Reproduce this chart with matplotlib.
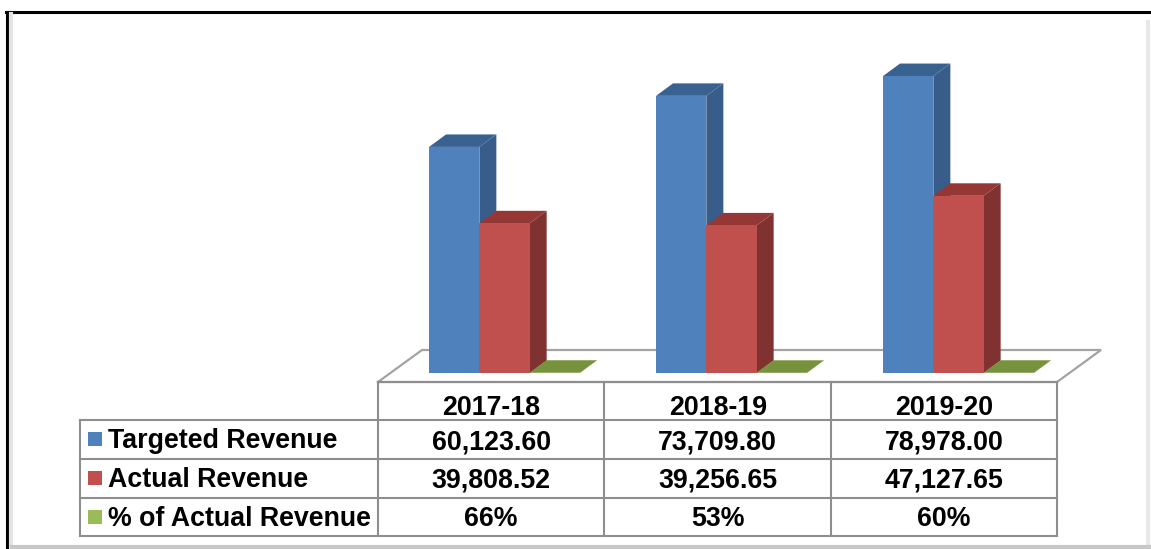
import matplotlib
matplotlib.use('Agg')
import matplotlib.pyplot as plt
from matplotlib.patches import Polygon, Rectangle

years = ['2017-18', '2018-19', '2019-20']
targeted = [60123.60, 73709.80, 78978.00]
actual = [39808.52, 39256.65, 47127.65]
percent = [66, 53, 60]
row_names = ['Targeted Revenue', 'Actual Revenue', '% of Actual Revenue']

W, H = 1151, 549
plt.rcParams['font.family'] = ['Liberation Sans', 'DejaVu Sans']
plt.rcParams['font.weight'] = 'bold'

fig = plt.figure(figsize=(W / 100, H / 100), dpi=100, facecolor='white')

# overlay in pixel coordinates for the frame and the table
page = fig.add_axes([0, 0, 1, 1], zorder=1)
page.set_xlim(0, W)
page.set_ylim(H, 0)
page.axis('off')

# chart axes: x in categories, y in revenue
px_per_cat = 227.0
px_per_val = 0.00376
base_px = 373
left_px, right_px = 378, 1101
top_px = 20
x0 = (504.5 - left_px) / px_per_cat
ax = fig.add_axes([left_px / W, (H - base_px) / H, (right_px - left_px) / W, (base_px - top_px) / H], zorder=2)
ax.set_xlim(-x0, (right_px - left_px) / px_per_cat - x0)
ax.set_ylim(0, (base_px - top_px) / px_per_val)
ax.axis('off')
ax.patch.set_alpha(0)

bar_w = 50.3 / px_per_cat
dx = 17 / px_per_cat
dy = 12.5 / px_per_val

series = [
    (targeted, -bar_w, '#4F81BD', '#385D8A', '#3A6291', 3),
    (actual, 0, '#C0504D', '#7F3230', '#953735', 4),
    (percent, bar_w, '#9BBB59', '#76923C', '#76923C', 5),
]
for values, off, front, side, top, z in series:
    for i, v in enumerate(values):
        x = i + off
        l, r = x - bar_w / 2, x + bar_w / 2
        ax.add_patch(Polygon([(r, 0), (r + dx, dy), (r + dx, v + dy), (r, v)], fc=side, ec='none', zorder=z, clip_on=False))
        ax.add_patch(Polygon([(l, v), (r, v), (r + dx, v + dy), (l + dx, v + dy)], fc=top, ec='none', zorder=z, clip_on=False))
        ax.bar(x, v, width=bar_w, color=front, linewidth=0, zorder=z + 0.5, clip_on=False)

# floor
grey = '#A3A3A3'
page.plot([378, 422, 1101, 1057, 378], [382, 350, 350, 382, 382], color=grey, lw=1.6, zorder=1, solid_joinstyle='miter')

# table grid
line = '#8E8E8E'
cols = [378, 604.5, 831, 1057]
rows = [382, 420, 459, 498, 536]
for c in cols:
    page.plot([c, c], [rows[0], rows[-1]], color=line, lw=1.5)
page.plot([80, 80], [rows[1], rows[-1]], color=line, lw=1.5)
for k, r in enumerate(rows):
    page.plot([80 if k > 0 else 378, 1057], [r, r], color=line, lw=1.5)

fs = 19.3
centers = [(cols[i] + cols[i + 1]) / 2 for i in range(3)]
cells = [
    [f'{v:,.2f}' for v in targeted],
    [f'{v:,.2f}' for v in actual],
    [f'{v}%' for v in percent],
]
for i in range(3):
    page.text(centers[i], 405, years[i], ha='center', va='center_baseline', fontsize=fs)
    for j in range(3):
        page.text(centers[i], (rows[j + 1] + rows[j + 2]) / 2 - 0.5, cells[j][i], ha='center', va='center_baseline', fontsize=fs)

swatches = ['#4F81BD', '#C0504D', '#9BBB59']
for j, name in enumerate(row_names):
    mid = (rows[j + 1] + rows[j + 2]) / 2
    page.add_patch(Rectangle((88, mid - 7.5), 14, 14, fc=swatches[j], ec='none'))
    page.text(108, mid - 1.5, name, ha='left', va='center_baseline', fontsize=fs)

# outer frame with soft shadow
page.plot([6, W], [12, 12], color='black', lw=2.2)
page.plot([7, 7], [12, H], color='black', lw=2.2)
page.plot([11, 11], [14, 545], color='#E4E4E4', lw=3)
page.plot([1148, 1148], [22, 545], color='#E8E8E8', lw=3)
page.plot([12, W], [547, 547], color='#C8C8C8', lw=3)

fig.savefig('out.png', dpi=100)
